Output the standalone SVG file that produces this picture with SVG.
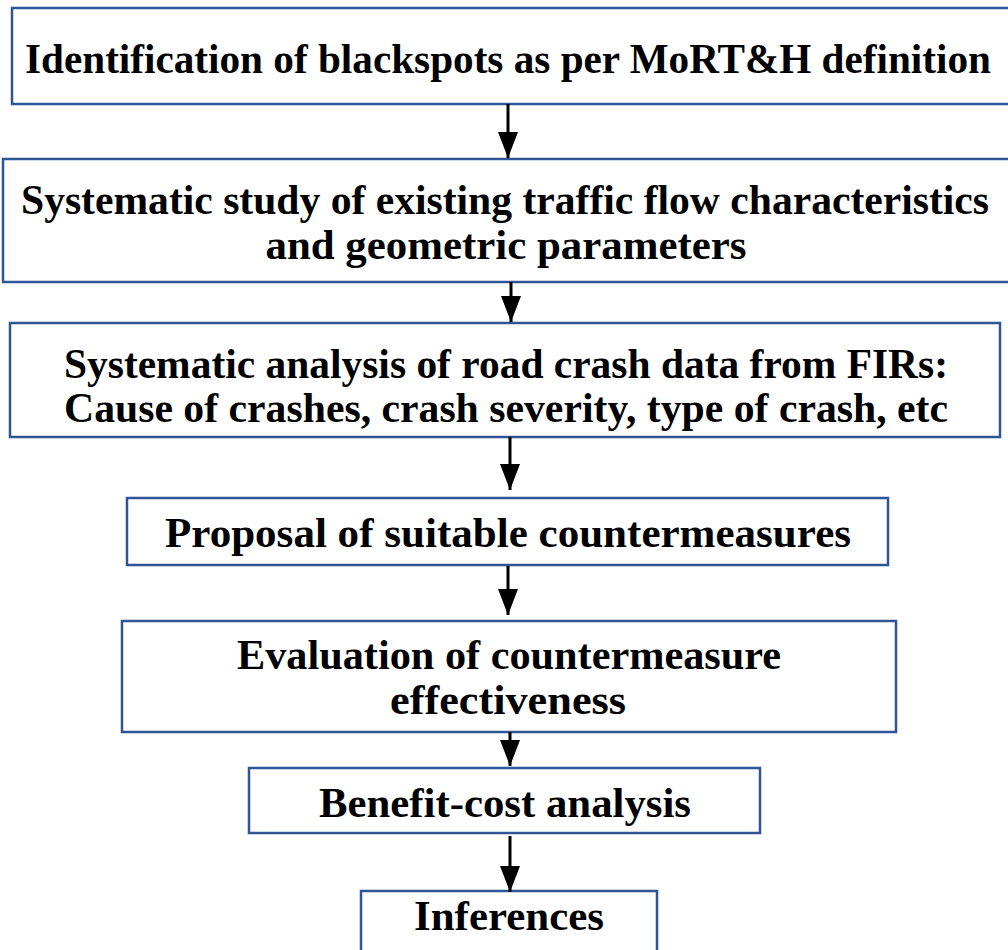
<svg xmlns="http://www.w3.org/2000/svg" width="1008" height="950" viewBox="0 0 1008 950">
<defs>
<style>
.box{fill:#ffffff;stroke:#2F5597;stroke-width:2.5}
.t{font-family:"Liberation Serif","Times New Roman",serif;font-weight:bold;font-size:43px;fill:#000;text-anchor:middle}
.c{stroke:#000;stroke-width:3;fill:none}
</style>
<marker id="ah" markerUnits="userSpaceOnUse" markerWidth="28" markerHeight="20" refX="26" refY="10" orient="auto" viewBox="0 0 28 20">
<path d="M0,0 L26,10 L0,20 Z" fill="#000"/>
</marker>
</defs>
<rect width="1008" height="950" fill="#ffffff"/>
<g id="n1"><rect class="box" x="12" y="8" width="1010" height="96"/>
<text class="t" x="508" y="73" textLength="966" lengthAdjust="spacingAndGlyphs">Identification of blackspots as per MoRT&amp;H definition</text></g>
<g id="n2"><rect class="box" x="3" y="159" width="1020" height="123"/>
<text class="t" x="505" y="214" textLength="968" lengthAdjust="spacingAndGlyphs">Systematic study of existing traffic flow characteristics</text>
<text class="t" x="506" y="259" textLength="481" lengthAdjust="spacingAndGlyphs">and geometric parameters</text></g>
<g id="n3"><rect class="box" x="10" y="323" width="990" height="114"/>
<text class="t" x="506" y="378" textLength="884" lengthAdjust="spacingAndGlyphs">Systematic analysis of road crash data from FIRs:</text>
<text class="t" x="506" y="422" textLength="884" lengthAdjust="spacingAndGlyphs">Cause of crashes, crash severity, type of crash, etc</text></g>
<g id="n4"><rect class="box" x="127" y="498" width="761" height="67"/>
<text class="t" x="508" y="547" textLength="686" lengthAdjust="spacingAndGlyphs">Proposal of suitable countermeasures</text></g>
<g id="n5"><rect class="box" x="122" y="621" width="774" height="111"/>
<text class="t" x="509" y="669" textLength="544" lengthAdjust="spacingAndGlyphs">Evaluation of countermeasure</text>
<text class="t" x="508" y="714" textLength="236" lengthAdjust="spacingAndGlyphs">effectiveness</text></g>
<g id="n6"><rect class="box" x="249" y="768" width="511" height="65"/>
<text class="t" x="505" y="817" textLength="372" lengthAdjust="spacingAndGlyphs">Benefit-cost analysis</text></g>
<g id="n7"><rect class="box" x="361" y="891" width="296" height="80"/>
<text class="t" x="509" y="930" textLength="190" lengthAdjust="spacingAndGlyphs">Inferences</text></g>
<g id="connectors">
<line class="c" x1="508" y1="104" x2="508" y2="158" marker-end="url(#ah)"/>
<line class="c" x1="511" y1="282" x2="511" y2="322" marker-end="url(#ah)"/>
<line class="c" x1="510" y1="437" x2="510" y2="490" marker-end="url(#ah)"/>
<line class="c" x1="508" y1="566" x2="508" y2="615" marker-end="url(#ah)"/>
<line class="c" x1="510" y1="732" x2="510" y2="766" marker-end="url(#ah)"/>
<line class="c" x1="510" y1="836" x2="510" y2="892" marker-end="url(#ah)"/>
</g>
</svg>
